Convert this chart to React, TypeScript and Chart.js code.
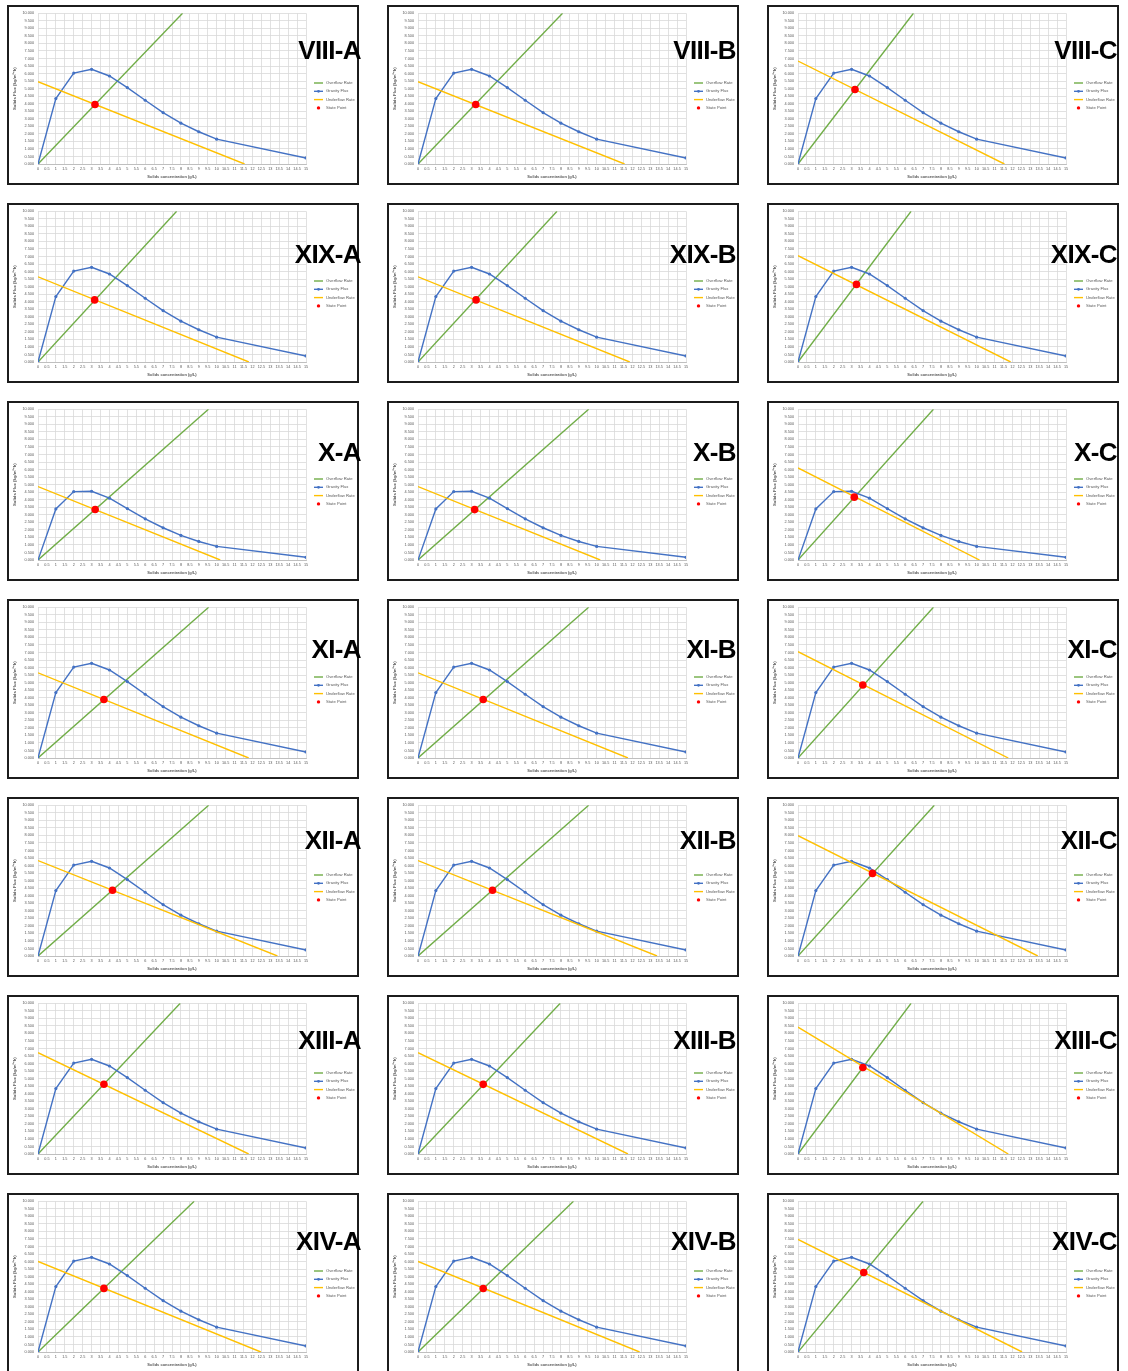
import React, { useEffect, useRef } from "react";
import { Chart, registerables } from "chart.js";

Chart.register(...registerables);

// ---------- DATA ----------
const panelNames = [
  "VIII-A", "VIII-B", "VIII-C",
  "XIX-A", "XIX-B", "XIX-C",
  "X-A", "X-B", "X-C",
  "XI-A", "XI-B", "XI-C",
  "XII-A", "XII-B", "XII-C",
  "XIII-A", "XIII-B", "XIII-C",
  "XIV-A", "XIV-B", "XIV-C",
];

const seriesLabels = ["Overflow Rate", "Gravity Flux", "Underflow Rate", "State Point"];

const xTickLabels = [
  "0", "0.5", "1", "1.5", "2", "2.5", "3", "3.5", "4", "4.5", "5", "5.5", "6", "6.5", "7", "7.5",
  "8", "8.5", "9", "9.5", "10", "10.5", "11", "11.5", "12", "12.5", "13", "13.5", "14", "14.5", "15",
];
const yTickLabels = [
  "0.000", "0.500", "1.000", "1.500", "2.000", "2.500", "3.000", "3.500", "4.000", "4.500", "5.000",
  "5.500", "6.000", "6.500", "7.000", "7.500", "8.000", "8.500", "9.000", "9.500", "10.000",
];

const xTitle = "Solids concentration (g/L)";
const yTitle = "Solids Flux (kg/m²*h)";

// gravity flux curve (concentration g/L -> flux)
const gravityConc = [0, 1, 2, 3, 4, 5, 6, 7, 8, 9, 10, 15];
const gravityFluxMain = [0, 4340, 6030, 6280, 5840, 5070, 4230, 3410, 2710, 2140, 1650, 400];
const gravityFluxX = [0, 3390, 4540, 4560, 4100, 3410, 2730, 2140, 1630, 1230, 900, 180];
const rowGravityFlux = [
  gravityFluxMain, gravityFluxMain, gravityFluxX, gravityFluxMain,
  gravityFluxMain, gravityFluxMain, gravityFluxMain,
];

// overflow rate line: from (0,0) to (overflowTopX, overflowTopY)
const overflowTopY = 10000;
const overflowTopX = [
  8.09, 8.09, 6.46,
  7.76, 7.78, 6.33,
  9.54, 9.55, 7.58,
  9.55, 9.55, 7.58,
  9.55, 9.55, 7.63,
  7.96, 7.96, 6.33,
  8.74, 8.70, 7.0,
];

// underflow rate line: from (0, underflowStartY) to (underflowEndX, 0)
const underflowStartY = [
  5460, 5460, 6830,
  5650, 5650, 7055,
  4870, 4870, 6110,
  5650, 5650, 7055,
  6330, 6330, 7980,
  6725, 6725, 8420,
  6010, 6010, 7470,
];
const underflowEndX = [
  11.56, 11.56, 11.55,
  11.8, 11.85, 11.9,
  10.2, 10.2, 10.16,
  11.79, 11.75, 11.77,
  13.4, 13.38, 13.42,
  11.79, 11.75, 11.77,
  12.47, 12.4, 12.54,
];

// state point
const stateX = [
  3.19, 3.23, 3.19,
  3.17, 3.25, 3.27,
  3.2, 3.17, 3.15,
  3.69, 3.65, 3.63,
  4.17, 4.17, 4.17,
  3.69, 3.65, 3.63,
  3.69, 3.65, 3.68,
];
const stateY = [
  3943, 3943, 4945,
  4120, 4120, 5150,
  3350, 3345, 4170,
  3880, 3880, 4840,
  4360, 4360, 5480,
  4630, 4620, 5736,
  4220, 4210, 5270,
];

// ---------- LAYOUT ----------
const columnLeft = [7, 387, 767];
const rowTop = [5, 203, 401, 599, 797, 995, 1193];
const panelW = 352;
const panelH = 180;
const borderW = 2;
const titleCapTop = [35, 41, 41, 40, 33, 35, 38];
const titleRight = [354, 349, 350];
const titleSize = 26;

const COLORS = {
  overflow: "#70AD47",
  gravity: "#4472C4",
  underflow: "#FFC000",
  state: "#FF0000",
  grid: "#d9d9d9",
  text: "#595959",
};
const FONT = '"Liberation Sans", Arial, sans-serif';

const legendPlugin = {
  id: "sideLegend",
  afterDraw(chart: any) {
    const ctx = chart.ctx;
    ctx.save();
    const x0 = 305;
    const y0 = 76;
    const dy = 8.3;
    chart.data.datasets.forEach((ds: any, i: number) => {
      const y = y0 + i * dy;
      if (ds.showLine !== false) {
        ctx.strokeStyle = ds.borderColor;
        ctx.lineWidth = 1.4;
        ctx.beginPath();
        ctx.moveTo(x0, y);
        ctx.lineTo(x0 + 9, y);
        ctx.stroke();
      }
      if (ds.pointRadius > 0) {
        ctx.fillStyle = ds.backgroundColor;
        ctx.beginPath();
        ctx.arc(x0 + 4.5, y, ds.showLine === false ? 1.7 : 1.4, 0, Math.PI * 2);
        ctx.fill();
      }
      ctx.fillStyle = COLORS.text;
      ctx.font = `4.2px ${FONT}`;
      ctx.textBaseline = "middle";
      ctx.textAlign = "left";
      ctx.fillText(ds.label, x0 + 12, y);
    });
    ctx.restore();
  },
};

function Panel({ idx }: { idx: number }) {
  const ref = useRef<HTMLCanvasElement | null>(null);
  const row = Math.floor(idx / 3);
  const col = idx % 3;

  useEffect(() => {
    if (!ref.current) return;
    const gravity = rowGravityFlux[row];
    const chart = new Chart(ref.current, {
      type: "line",
      data: {
        datasets: [
          {
            label: seriesLabels[0],
            data: [
              { x: 0, y: 0 },
              { x: overflowTopX[idx], y: overflowTopY },
            ],
            borderColor: COLORS.overflow,
            backgroundColor: COLORS.overflow,
            borderWidth: 1.4,
            pointRadius: 0,
            order: 4,
          },
          {
            label: seriesLabels[1],
            data: gravityConc.map((c, i) => ({ x: c, y: gravity[i] })),
            borderColor: COLORS.gravity,
            backgroundColor: COLORS.gravity,
            borderWidth: 1.4,
            pointRadius: 1.6,
            pointBorderWidth: 0,
            order: 3,
          },
          {
            label: seriesLabels[2],
            data: [
              { x: 0, y: underflowStartY[idx] },
              { x: underflowEndX[idx], y: 0 },
            ],
            borderColor: COLORS.underflow,
            backgroundColor: COLORS.underflow,
            borderWidth: 1.4,
            pointRadius: 0,
            order: 2,
          },
          {
            label: seriesLabels[3],
            data: [{ x: stateX[idx], y: stateY[idx] }],
            borderColor: COLORS.state,
            backgroundColor: COLORS.state,
            showLine: false,
            pointRadius: 3.8,
            pointBorderWidth: 0,
            order: 1,
          },
        ],
      },
      options: {
        responsive: false,
        animation: false,
        events: [],
        layout: { padding: { top: 5, right: 51, left: 0, bottom: 0 } },
        plugins: {
          legend: { display: false },
          tooltip: { enabled: false },
        },
        scales: {
          x: {
            type: "linear",
            min: 0,
            max: 15,
            afterFit: (s: any) => {
              s.height = 19;
            },
            ticks: {
              stepSize: 0.5,
              autoSkip: false,
              maxRotation: 0,
              minRotation: 0,
              padding: 3,
              color: COLORS.text,
              font: { size: 3.8, family: FONT },
              callback: (_v: any, i: number) => xTickLabels[i],
            },
            grid: { color: COLORS.grid, lineWidth: 0.8, drawTicks: false },
            border: { color: "#bfbfbf" },
            title: {
              display: true,
              text: xTitle,
              color: COLORS.text,
              font: { size: 4, weight: "bold", family: FONT },
              padding: { top: 0, bottom: 4 },
            },
          },
          y: {
            type: "linear",
            min: 0,
            max: 10000,
            afterFit: (s: any) => {
              s.width = 29;
            },
            ticks: {
              stepSize: 500,
              autoSkip: false,
              padding: 4,
              color: COLORS.text,
              font: { size: 3.8, family: FONT },
              callback: (_v: any, i: number) => yTickLabels[i],
            },
            grid: { color: COLORS.grid, lineWidth: 0.8, drawTicks: false },
            border: { display: false },
            title: {
              display: true,
              text: yTitle,
              color: COLORS.text,
              font: { size: 4.3, weight: "bold", family: FONT },
              padding: 3,
            },
          },
        },
      },
      plugins: [legendPlugin],
    } as any);
    return () => chart.destroy();
  }, [idx, row]);

  const innerW = panelW - 2 * borderW;
  const innerH = panelH - 2 * borderW;
  const capOffset = titleSize * ((1 - 1.117) / 2 + 0.905 - 0.716);

  return (
    <div
      style={{
        position: "absolute",
        left: columnLeft[col],
        top: rowTop[row],
        width: panelW,
        height: panelH,
        boxSizing: "border-box",
        border: `${borderW}px solid #1c1c1c`,
        background: "#fff",
      }}
    >
      <canvas
        ref={ref}
        width={innerW}
        height={innerH}
        style={{ position: "absolute", left: 0, top: 0, width: innerW, height: innerH }}
      />
      <div
        style={{
          position: "absolute",
          right: panelW - borderW - titleRight[col],
          top: titleCapTop[row] - borderW - capOffset,
          fontFamily: FONT,
          fontWeight: "bold",
          fontSize: titleSize,
          lineHeight: 1,
          letterSpacing: -0.6,
          color: "#000",
          whiteSpace: "nowrap",
          zIndex: 2,
        }}
      >
        {panelNames[idx]}
      </div>
    </div>
  );
}

export default function App() {
  return (
    <div
      style={{
        position: "absolute",
        left: 0,
        top: 0,
        width: 1128,
        height: 1371,
        background: "#fff",
        overflow: "hidden",
      }}
    >
      {panelNames.map((_, i) => (
        <Panel key={i} idx={i} />
      ))}
    </div>
  );
}
